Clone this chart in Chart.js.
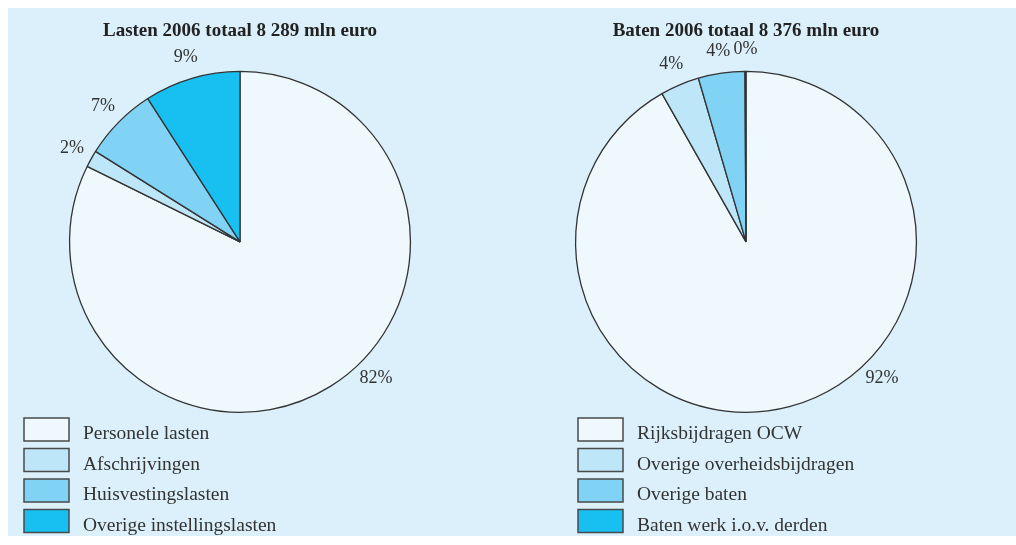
<!DOCTYPE html>
<html lang="nl">
<head>
    <meta charset="UTF-8">
    <title>Lasten en baten 2006</title>
    <style>
        body {
            margin: 0;
            background: #ffffff;
            width: 1016px;
            height: 545px;
            position: relative;
            overflow: hidden;
        }
        .panel {
            position: absolute;
            left: 8px;
            top: 8px;
            width: 1008px;
            height: 528px;
            background: #dbf0fb;
        }
        .chart-box {
            position: absolute;
            top: 0;
            width: 480px;
            height: 545px;
        }
    </style>
    <script src="https://cdn.jsdelivr.net/npm/chart.js"></script>
</head>
<body>
    <div class="panel"></div>
    <div class="chart-box" style="left:0px;"><canvas id="lastenChart"></canvas></div>
    <div class="chart-box" style="left:506px;"><canvas id="batenChart"></canvas></div>

    <script>
        // Lasten 2006 (mln euro)
        const lastenLabels = ['Personele lasten', 'Afschrijvingen', 'Huisvestingslasten', 'Overige instellingslasten'];
        const lastenValues = [6822, 133, 580, 754];
        const lastenTitle = 'Lasten 2006 totaal 8 289 mln euro';

        // Baten 2006 (mln euro)
        const batenLabels = ['Rijksbijdragen OCW', 'Overige overheidsbijdragen', 'Overige baten', 'Baten werk i.o.v. derden'];
        const batenValues = [7689, 310, 369, 8];
        const batenTitle = 'Baten 2006 totaal 8 376 mln euro';

        const sliceColors = ['#eef8fd', '#bde6f8', '#80d3f5', '#18c0f2'];
        const serif = '"Liberation Serif", "DejaVu Serif", serif';

        // percentage labels just outside the pie; big slice label goes bottom right
        const pctLabels = {
            id: 'pctLabels',
            afterDatasetsDraw(chart) {
                const ctx = chart.ctx;
                const meta = chart.getDatasetMeta(0);
                const data = chart.data.datasets[0].data;
                const total = data.reduce((a, b) => a + b, 0);
                ctx.save();
                ctx.font = '18px ' + serif;
                ctx.fillStyle = '#333333';
                ctx.textAlign = 'center';
                ctx.textBaseline = 'middle';
                meta.data.forEach((arc, i) => {
                    const p = arc.getProps(['x', 'y', 'startAngle', 'endAngle', 'outerRadius'], true);
                    let a = (p.startAngle + p.endAngle) / 2;
                    if (p.endAngle - p.startAngle > Math.PI) a = Math.PI / 4;
                    const r = p.outerRadius + 22;
                    const txt = Math.round(data[i] / total * 100) + '%';
                    ctx.fillText(txt, p.x + Math.cos(a) * r, p.y + Math.sin(a) * r);
                });
                ctx.restore();
            }
        };

        // vertical legend with boxes at the bottom
        const boxLegend = {
            id: 'boxLegend',
            afterDraw(chart, args, opts) {
                const ctx = chart.ctx;
                const ds = chart.data.datasets[0];
                ctx.save();
                ctx.font = '19.5px ' + serif;
                ctx.textAlign = 'left';
                ctx.textBaseline = 'middle';
                chart.data.labels.forEach((lbl, i) => {
                    const y = opts.top + i * 30.5;
                    ctx.fillStyle = ds.backgroundColor[i];
                    ctx.fillRect(opts.left, y, 45, 23);
                    ctx.strokeStyle = '#4a4a4a';
                    ctx.lineWidth = 1.5;
                    ctx.strokeRect(opts.left, y, 45, 23);
                    ctx.fillStyle = '#333333';
                    ctx.fillText(lbl, opts.left + 59, y + 16);
                });
                ctx.restore();
            }
        };

        function makePie(id, labels, values, title, legendLeft) {
            const ctx = document.getElementById(id).getContext('2d');
            return new Chart(ctx, {
                type: 'pie',
                data: {
                    labels: labels,
                    datasets: [{
                        data: values,
                        backgroundColor: sliceColors,
                        borderColor: '#333333',
                        borderWidth: 1.3
                    }]
                },
                options: {
                    responsive: true,
                    maintainAspectRatio: false,
                    animation: false,
                    layout: { padding: { top: 0, bottom: 132, left: 0, right: 0 } },
                    plugins: {
                        legend: { display: false },
                        tooltip: { enabled: false },
                        title: {
                            display: true,
                            text: title,
                            color: '#222222',
                            font: { family: serif, size: 19, weight: 'bold', lineHeight: 1.2 },
                            padding: { top: 20, bottom: 28 }
                        },
                        boxLegend: { left: legendLeft, top: 418 }
                    }
                },
                plugins: [pctLabels, boxLegend]
            });
        }

        makePie('lastenChart', lastenLabels, lastenValues, lastenTitle, 24);
        makePie('batenChart', batenLabels, batenValues, batenTitle, 72);
    </script>
</body>
</html>
